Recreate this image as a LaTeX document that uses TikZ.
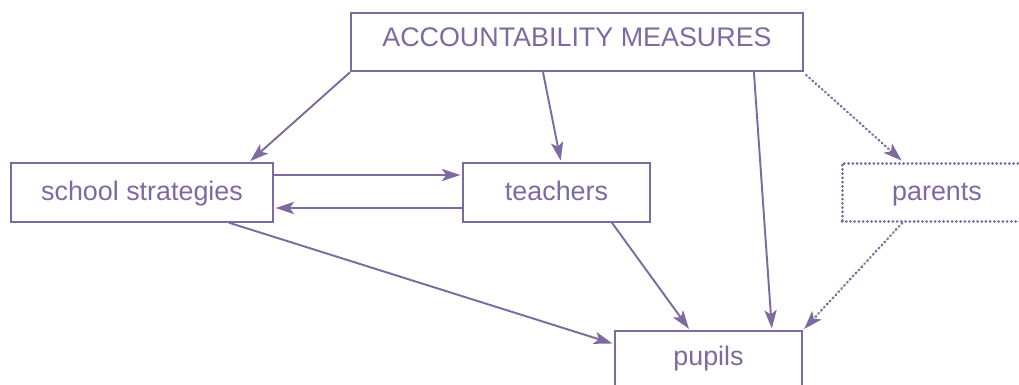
\documentclass[tikz,border=0pt]{standalone}
\usepackage{fontspec}
\setmainfont{Liberation Sans}
\usetikzlibrary{positioning}
\usetikzlibrary{arrows.meta}
\definecolor{lila}{RGB}{126,106,160}
\tikzset{boite/.style={shape=rectangle,draw=lila,line width=1.1pt,text=lila,font=\fontsize{15.3}{18}\selectfont,text height=0.75em,text depth=0.23em,minimum height=1.17cm,inner sep=0pt}}
\tikzset{bas/.style={text height=1.15em,text depth=0.19em}}
\tikzset{fleche/.style={-{Stealth[length=10.5pt,width=7pt,inset=2.5pt]},draw=lila,fill=lila,line width=1.1pt,shorten >=1pt}}
\tikzset{pointille/.style={line width=1.7pt,dash pattern=on 0.01pt off 2.4pt,line cap=round}}

\begin{document}
\begin{tikzpicture}[x=0.02cm,y=-0.02cm]
\useasboundingbox (0,0) rectangle (1019,385);
\node(Acc) at (577,42) [boite,minimum width=9.04cm] {ACCOUNTABILITY MEASURES};
\node(Sch) at (142,192.5) [boite,bas,minimum width=5.24cm] {school strategies};
\node(Tea) at (556.5,192.5) [boite,bas,minimum width=3.74cm] {teachers};
\node(Par) at (937,192.5) [boite,bas,pointille,minimum width=3.8cm] {parents};
\node(Pup) at (708.5,360.5) [boite,minimum width=3.74cm] {pupils};

\draw[fleche] (Acc.south west)--([xshift=-0.5cm]Sch.north east);
\draw[fleche] ([xshift=-0.68cm]Acc.south)--([xshift=0.09cm]Tea.north);
\draw[fleche] ([xshift=-1cm]Acc.south east)--([xshift=-0.62cm]Pup.north east);
\draw[fleche,pointille] ([xshift=0.05cm,yshift=-0.06cm]Acc.south east)--([xshift=-0.68cm]Par.north);
\draw[fleche] ([yshift=0.35cm]Sch.east)--([yshift=0.35cm]Tea.west);
\draw[fleche] ([yshift=-0.31cm]Tea.west)--([yshift=-0.31cm]Sch.east);
\draw[fleche] ([xshift=-0.9cm]Sch.south east)--([yshift=0.33cm]Pup.west);
\draw[fleche] ([xshift=-0.78cm]Tea.south east)--([xshift=-0.37cm]Pup.north);
\draw[fleche,pointille] ([xshift=-0.7cm]Par.south)--(Pup.north east);
\end{tikzpicture}
\end{document}
